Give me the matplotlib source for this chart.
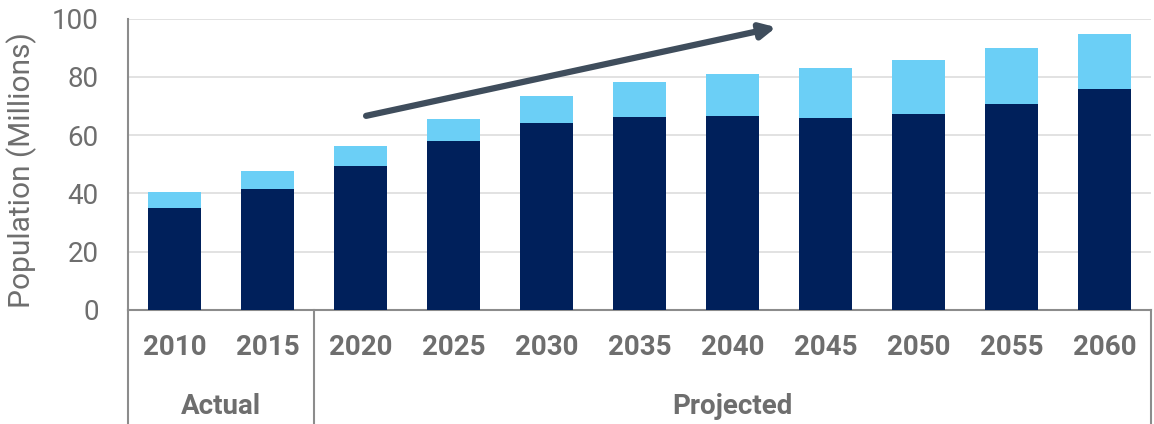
import matplotlib.pyplot as plt
import numpy as np

plt.rcParams['font.family'] = ['Roboto', 'DejaVu Sans']

# Population in millions, split into two stacked segments
years = ['2010', '2015', '2020', '2025', '2030', '2035', '2040', '2045', '2050', '2055', '2060']
base = [35.1, 41.5, 49.5, 57.9, 64.3, 66.2, 66.6, 66.0, 67.2, 70.7, 75.7]
total = [40.6, 47.7, 56.3, 65.4, 73.4, 78.1, 81.0, 82.9, 85.8, 89.8, 94.8]
groups = ['Actual', 'Projected']
group_sizes = [2, 9]

upper = [t - b for t, b in zip(total, base)]

navy = '#00205B'
sky = '#6BCFF6'
grey_txt = '#6E6E6E'
axis_grey = '#8C8C8C'

fig = plt.figure(figsize=(11.54, 4.24), dpi=100)
ax = fig.add_axes([128 / 1154, 1 - 310 / 424, 1023 / 1154, 291.5 / 424])

x = np.arange(len(years))
ax.bar(x, base, width=0.57, color=navy, zorder=3)
ax.bar(x, upper, bottom=base, width=0.57, color=sky, zorder=3)

ax.set_xlim(-0.5, len(years) - 0.5)
ax.set_ylim(0, 100)
ax.set_yticks(range(0, 101, 20))
ax.yaxis.grid(True, color='#DDDDDD', linewidth=1.2, zorder=0)
ax.tick_params(axis='y', length=0, pad=21, labelsize=20, labelcolor=grey_txt)
ax.set_xticks([])
for s in ['top', 'right']:
    ax.spines[s].set_visible(False)
for s in ['left', 'bottom']:
    ax.spines[s].set_color(axis_grey)
    ax.spines[s].set_linewidth(1.5)
ax.set_ylabel('Population (Millions)', fontsize=21.5, color=grey_txt)
ax.yaxis.set_label_coords(-0.089, 0.48)

# two-level category axis below the plot
trans = ax.get_xaxis_transform()
for xi, yr in zip(x, years):
    ax.text(xi, -0.13, yr, transform=trans, ha='center', va='center',
            fontsize=20, fontweight='bold', color=grey_txt)
start = -0.5
edges = [start]
for name, n in zip(groups, group_sizes):
    end = start + n
    ax.text((start + end) / 2, -0.33, name, transform=trans, ha='center', va='center',
            fontsize=20, fontweight='bold', color=grey_txt)
    start = end
    edges.append(end)
for e in edges:
    ax.plot([e, e], [0, -0.4], transform=trans, color=axis_grey, linewidth=1.5,
            clip_on=False)

# trend arrow
ax.annotate('', xy=(6.47, 97.0), xytext=(2.06, 66.6),
            arrowprops=dict(arrowstyle='-|>,head_length=0.9,head_width=0.45',
                            color='#3F4D5C', lw=4.5, shrinkA=0, shrinkB=0),
            zorder=5)

fig.savefig('out.png', dpi=100)
